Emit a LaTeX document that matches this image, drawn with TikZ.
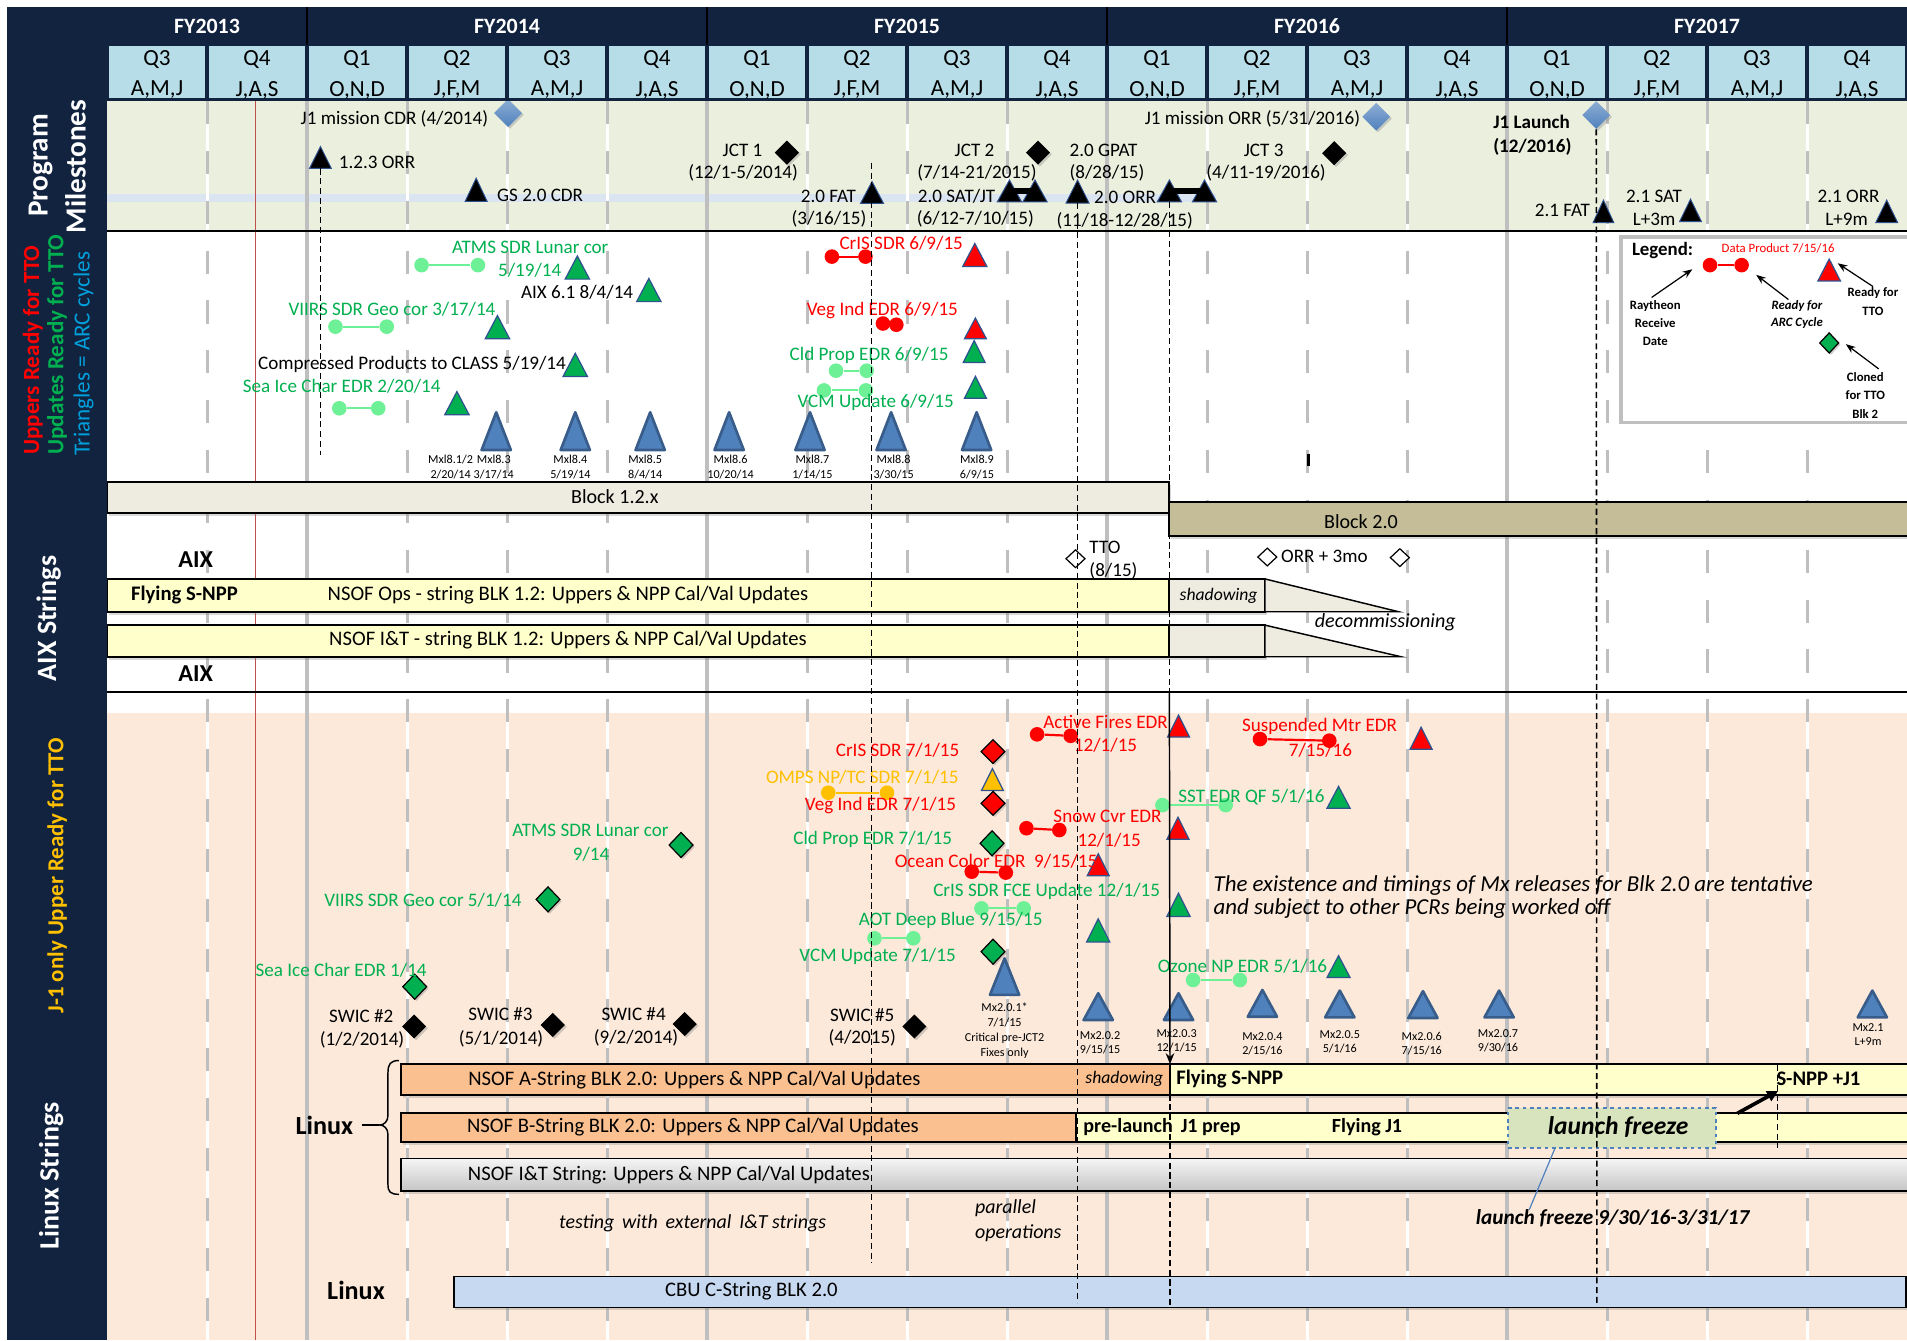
\documentclass[tikz,border=0pt]{standalone}
\usepackage{fontspec}
\setmainfont{Carlito}
\usetikzlibrary{shapes.geometric,arrows.meta,shadows}
\definecolor{navy}{RGB}{18,35,63}
\definecolor{qblue}{RGB}{183,222,232}
\definecolor{msbg}{RGB}{235,239,222}
\definecolor{peach}{RGB}{252,233,218}
\definecolor{stripe}{RGB}{219,229,241}
\definecolor{gridg}{RGB}{191,191,191}
\definecolor{grn}{RGB}{0,176,80}
\definecolor{lgrn}{RGB}{110,240,150}
\definecolor{org}{RGB}{255,192,0}
\definecolor{mxblue}{RGB}{79,129,189}
\definecolor{mxedge}{RGB}{56,93,138}
\definecolor{triedge}{RGB}{47,82,143}
\definecolor{cyanb}{RGB}{0,160,220}
\definecolor{blkA}{RGB}{238,236,225}
\definecolor{blkB}{RGB}{196,189,151}
\definecolor{ylw}{RGB}{255,255,204}
\definecolor{orbar}{RGB}{250,192,144}
\definecolor{cbuc}{RGB}{198,217,241}
\definecolor{frzc}{RGB}{215,228,189}
\definecolor{redl}{RGB}{192,80,77}
\definecolor{legg}{RGB}{191,191,191}
\newcommand\tri[6]{%
  \node[inner sep=0pt,outer sep=0pt,minimum width=#4,minimum height=#5] (#1) at (#2,#3) {};
  \draw[#6] (#1.south west) -- (#1.south east) -- (#1.north) -- cycle;}
\newcommand\barbox[6]{%
  \node[#6,inner sep=0pt,outer sep=0pt,anchor=north west,minimum width={#4-#2},minimum height={#5-#3}] (#1) at (#2,#3) {};}
\begin{document}
\begin{tikzpicture}[x=1pt,y=-1pt,
  lbl/.style={inner sep=0pt,font=\fontsize{15.7}{18}\selectfont},
  lblg/.style={lbl,text=grn},
  lblr/.style={lbl,text=red},
  lblo/.style={lbl,text=org},
  lblk/.style={inner sep=0pt,font=\fontsize{15.7}{18}\selectfont\bfseries},
  mxl/.style={inner sep=0pt,font=\fontsize{10}{12}\selectfont,align=center},
  barl/.style={inner sep=0pt,font=\fontsize{17}{19}\selectfont},
  barlb/.style={inner sep=0pt,font=\fontsize{17}{19}\selectfont\bfseries},
  itl/.style={inner sep=0pt,font=\fontsize{16.4}{19}\selectfont\itshape},
  bitl/.style={inner sep=0pt,font=\fontsize{17.5}{20}\selectfont\bfseries\itshape},
  aixl/.style={inner sep=0pt,font=\fontsize{20}{23}\selectfont\bfseries},
  lnx/.style={inner sep=0pt,font=\fontsize{21.5}{24}\selectfont\bfseries},
  blk/.style={inner sep=0pt,font=\fontsize{16.5}{19}\selectfont},
  qlbl/.style={inner sep=0pt,font=\fontsize{19}{22}\selectfont},
  fyl/.style={inner sep=0pt,text=white,font=\fontsize{18}{21}\selectfont\bfseries},
  side/.style={inner sep=0pt,rotate=90,font=\fontsize{23}{26}\selectfont\bfseries},
  legs/.style={inner sep=0pt,font=\fontsize{10.5}{15}\selectfont\bfseries,align=center},
  dotbase/.style={circle,inner sep=0pt,minimum size=12pt},
  dotg/.style={dotbase,fill=lgrn},
  dotr/.style={dotbase,fill=red},
  doto/.style={dotbase,fill=org},
  lng/.style={lgrn,line width=1.8pt},
  lnr/.style={red,line width=1.8pt},
  lno/.style={org,line width=1.8pt},
  dmbase/.style={diamond,inner sep=0pt,minimum width=20pt,minimum height=20pt},
  shd/.style={drop shadow={opacity=0.35,shadow xshift=1.5pt,shadow yshift=-1.5pt}},
  dmk/.style={dmbase,fill=black,shd},
  dmg/.style={dmbase,fill=grn,draw=black,line width=1pt,minimum height=21pt,shd},
  dmr/.style={dmbase,fill=red,draw=black,line width=1pt,shd},
  dmb/.style={dmbase,minimum width=23pt,minimum height=23pt,top color=mxblue!65!white,bottom color=mxblue,shd},
  dmw/.style={dmbase,minimum width=16pt,minimum height=15pt,draw=black,line width=1pt},
  trk/.style={fill=black,draw=triedge,line width=0.8pt},
  trg/.style={fill=grn,draw=triedge,line width=1pt},
  trr/.style={fill=red,draw=triedge,line width=1pt},
  tro/.style={fill=org,draw=triedge,line width=1pt},
  trm/.style={fill=mxblue,draw=mxedge,line width=2.2pt,line join=round},
  vguide/.style={black,line width=1.3pt,dash pattern=on 5pt off 3pt},
  barst/.style={draw=black,line width=1.5pt,drop shadow={opacity=0.3,shadow xshift=1.5pt,shadow yshift=-2.5pt}},
  larr/.style={-{Stealth[length=8pt,width=6pt]},line width=1pt}
]
\useasboundingbox (0,0) rectangle (1568,1102);
\fill[white] (0,0) rectangle (1568,1102);
% ---------- backgrounds
\fill[msbg] (88,83) rectangle (1568,190);
\fill[peach] (88,586) rectangle (1568,1102);
\fill[stripe] (88,159.8) rectangle (1000,165.8);
% ---------- grid
\foreach \i in {1,...,17}{%
  \pgfmathsetmacro\gx{88+82.222*\i}%
  \pgfmathtruncatemacro\gf{mod(\i+2,4)}%
  \ifnum\gf=0
    \draw[gridg,line width=3pt] (\gx,83) -- (\gx,1102);
  \else
    \draw[white,line width=2.5pt] (\gx,83) -- (\gx,1102);
    \draw[gridg,line width=2.5pt,dash pattern=on 19pt off 22pt] (\gx,83) -- (\gx,1102);
  \fi
}
\draw[redl,line width=1pt] (210,83) -- (210,1102);
\draw[black,line width=1.5pt] (88,190) -- (1568,190);
\draw[black,line width=2pt] (6,569) -- (1568,569);
% ---------- bars
\barbox{bk12}{88}{396}{961.5}{421.5}{barst,fill=blkA}
\barbox{bk20}{961.5}{413}{1570}{441}{barst,fill=blkB}
\barbox{aixops}{88}{476}{961.5}{503}{barst,fill=ylw}
\barbox{aixopsb}{961.5}{476}{1040}{503}{barst,fill=blkA}
\draw[fill=blkA,line width=1.2pt] (aixopsb.north east) -- (1150,503) -- (aixopsb.south east) -- cycle;
\barbox{aixit}{88}{514}{961.5}{540}{barst,fill=ylw}
\barbox{aixitb}{961.5}{514}{1040}{540}{barst,fill=blkA}
\draw[fill=blkA,line width=1.2pt] (aixitb.north east) -- (1152,540) -- (aixitb.south east) -- cycle;
\barbox{lxa}{330}{875}{962}{900}{barst,fill=orbar}
\barbox{lxab}{962}{875}{1570}{900}{barst,fill=ylw}
\barbox{lxb}{330}{915}{885}{939}{barst,fill=orbar}
\barbox{lxbb}{885}{915}{1570}{939}{barst,fill=ylw}
\barbox{lxit}{330}{952.5}{1570}{979}{barst,top color=gray!8,bottom color=gray!45}
\barbox{cbubar}{373}{1049.5}{1567}{1075}{barst,fill=cbuc}
\barbox{frzbox}{1240}{911}{1411}{944}{draw=mxblue,dashed,fill=frzc,line width=1.2pt}
\barbox{legbox}{1333}{195}{1575}{347.5}{draw=legg,line width=3pt,fill=white}
% ---------- milestone shapes
\node[dmb] (dcdr) at (417.7,93) {};
\node[dmb] (dorr) at (1131.5,96) {};
\node[dmb] (dlaunch) at (1312.5,94.6) {};
\node[dmk] (djct1) at (647,125.5) {};
\node[dmk] (djct2) at (853.5,125.5) {};
\node[dmk] (djct3) at (1097,126) {};
\tri{t123}{263.5}{129.5}{18}{18}{trk}
\tri{tgs}{391.5}{156}{18}{19}{trk}
\tri{tfat}{717}{158.3}{19}{18}{trk}
\tri{tsat1}{830}{157}{20}{18}{trk}
\tri{tsat2}{851}{157}{20}{18}{trk}
\draw[line width=4.5pt] (tsat1.center) -- (tsat2.center);
\tri{tgpat}{886}{157.5}{19}{19}{trk}
\tri{torr1}{961.5}{157}{20}{18}{trk}
\tri{torr2}{990.4}{157}{20}{18}{trk}
\draw[line width=4.5pt] (torr1.center) -- (torr2.center);
\tri{tf21}{1318.4}{173.8}{17}{18.5}{trk}
\tri{ts21}{1390}{173}{18}{18.5}{trk}
\tri{to21}{1551.3}{173.8}{18}{18.5}{trk}
% ---------- uppers shapes
\node[dotg] (ua1) at (346.6,218) {}; \node[dotg] (ua2) at (393,218) {}; \draw[lng] (ua1) -- (ua2);
\tri{uta}{474.7}{220}{20}{19}{trg}
\tri{utb}{533.5}{238.5}{20}{19}{trg}
\node[dotg] (ub1) at (275.8,268.6) {}; \node[dotg] (ub2) at (318,268.6) {}; \draw[lng] (ub1) -- (ub2);
\tri{utc}{409}{269}{20}{19}{trg}
\tri{utd}{473}{300}{20}{19}{trg}
\node[dotg] (uc1) at (279,335.7) {}; \node[dotg] (uc2) at (311,335.7) {}; \draw[lng] (uc1) -- (uc2);
\tri{ute}{375.7}{331.5}{20}{19}{trg}
\node[dotr] (ud1) at (684,211) {}; \node[dotr] (ud2) at (711.6,211) {}; \draw[lnr] (ud1) -- (ud2);
\tri{utf}{801.5}{209.7}{20}{19}{trr}
\node[dotr] (ue1) at (726,266) {}; \node[dotr] (ue2) at (737,267) {};
\tri{utg}{802}{270}{18}{17}{trr}
\node[dotg] (uf1) at (687.4,304.8) {}; \node[dotg] (uf2) at (712.6,304.8) {}; \draw[lng] (uf1) -- (uf2);
\tri{uth}{801}{289}{18}{18}{trg}
\node[dotg] (ug1) at (677.5,321) {}; \node[dotg] (ug2) at (712,321) {}; \draw[lng] (ug1) -- (ug2);
\tri{uti}{802}{318.5}{18}{18}{trg}
\tri{mx83}{408}{354.5}{24}{31}{trm}
\tri{mx84}{473}{354.5}{24}{31}{trm}
\tri{mx85}{534.6}{354.5}{24}{31}{trm}
\tri{mx86}{599.5}{354.5}{24}{31}{trm}
\tri{mx87}{666}{354.5}{24}{31}{trm}
\tri{mx88}{732.7}{354.5}{24}{31}{trm}
\tri{mx89}{803}{354.5}{24}{31}{trm}
\draw[line width=2pt] (1076,373) -- (1076,383);
% ---------- AIX shapes
\node[dmw] (wtto) at (884.3,459.4) {};
\node[dmw,fill=white] (worr1) at (1042,458) {};
\node[dmw,fill=white] (worr2) at (1151,458.5) {};
% ---------- legend shapes
\node[dotr] (lg1) at (1406,218) {}; \node[dotr] (lg2) at (1432,218) {}; \draw[lnr] (lg1) -- (lg2);
\tri{lgt}{1504}{222}{18.5}{18}{trr}
\node[dmg,minimum width=16pt,minimum height=17pt] (lgd) at (1504,282) {};
% ---------- J-1 shapes
\node[dotr] (ja1) at (852.7,603.8) {}; \node[dotr] (ja2) at (880.3,605) {}; \draw[lnr] (ja1) -- (ja2);
\tri{jta}{969}{597}{18}{18}{trr}
\node[dotr] (jb1) at (1036,607.7) {}; \node[dotr] (jb2) at (1093,609) {}; \draw[lnr] (jb1) -- (jb2);
\tri{jtb}{1168.5}{607}{18}{18}{trr}
\node[dmr] (jdc) at (816.5,618) {};
\node[doto] (jc1) at (681,651.8) {}; \node[doto] (jc2) at (729.3,651.8) {}; \draw[lno] (jc1) -- (jc2);
\tri{jtc}{816}{641}{18}{18}{tro}
\node[dmr] (jdv) at (816.5,660.5) {};
\node[dotg] (jd1) at (955.8,662) {}; \node[dotg] (jd2) at (1007.8,662) {}; \draw[lng] (jd1) -- (jd2);
\tri{jtd}{1100.6}{655.6}{19}{18}{trg}
\node[dotr] (je1) at (844,681) {}; \node[dotr] (je2) at (871,682.5) {}; \draw[lnr] (je1) -- (je2);
\tri{jte}{968.6}{681}{18}{18}{trr}
\node[dmg] (jda) at (560,694.8) {};
\node[dmg] (jdp) at (815.7,693.4) {};
\node[dotr] (jf1) at (799,716.7) {}; \node[dotr] (jf2) at (827,717.5) {}; \draw[lnr] (jf1) -- (jf2);
\tri{jtf}{903}{711}{18}{18}{trr}
\node[dotg] (jg1) at (807,746.9) {}; \node[dotg] (jg2) at (841.7,746.9) {}; \draw[lng] (jg1) -- (jg2);
\tri{jtg}{969}{744}{19}{19}{trg}
\node[dmg] (jdg) at (450.6,739.5) {};
\node[dotg] (jh1) at (719,771.5) {}; \node[dotg] (jh2) at (751,771.5) {}; \draw[lng] (jh1) -- (jh2);
\tri{jth}{903}{765}{19}{19}{trg}
\node[dmg] (jdm) at (816.5,782.5) {};
\node[dotg] (ji1) at (981,805.8) {}; \node[dotg] (ji2) at (1019.5,805.8) {}; \draw[lng] (ji1) -- (ji2);
\tri{jti}{1100.6}{794.8}{19}{18}{trg}
\node[dmg] (jds) at (341,811.3) {};
\node[dmk] (sw2) at (340.5,844) {};
\node[dmk] (sw3) at (454.5,842.8) {};
\node[dmk] (sw4) at (563,842) {};
\node[dmk] (sw5) at (751.8,844) {};
\tri{m201}{826}{803}{24}{30}{trm}
\tri{m202}{903}{827.7}{24}{22}{trm}
\tri{m203}{969}{827.7}{24}{22}{trm}
\tri{m204}{1038}{825}{24}{22}{trm}
\tri{m205}{1101.6}{825.5}{24}{22}{trm}
\tri{m206}{1170}{826}{24}{22}{trm}
\tri{m207}{1232.6}{825.5}{24}{22}{trm}
\tri{m21}{1539.5}{825.5}{24}{22}{trm}
% ---------- milestone texts
\node[lbl] (m1) at (324.3,98) {J1 mission CDR (4/2014)};
\node[lbl,anchor=west] (m2) at (278.4,133.5) {1.2.3 ORR};
\node[lbl,anchor=west] (m3) at (408.6,160.3) {GS 2.0 CDR};
\node[lbl] (m4) at (610.5,123.9) {JCT 1};
\node[lbl] (m5) at (611,142) {(12/1-5/2014)};
\node[lbl,anchor=east] (m6) at (704,161.7) {2.0 FAT};
\node[lbl] (m7) at (681.6,180.3) {(3/16/15)};
\node[lbl] (m8) at (801.3,123.9) {JCT 2};
\node[lbl] (m9) at (803.3,142) {(7/14-21/2015)};
\node[lbl,anchor=west] (m10) at (754.5,161.7) {2.0 SAT/JT};
\node[lbl] (m11) at (802,180.3) {(6/12-7/10/15)};
\node[lbl,anchor=west] (m12) at (879.3,123.9) {2.0 GPAT};
\node[lbl,anchor=west] (m13) at (879.3,142) {(8/28/15)};
\node[lbl,anchor=west] (m14) at (899.5,162.3) {2.0 ORR};
\node[lbl] (m15) at (924.8,181.5) {(11/18-12/28/15)};
\node[lbl] (m16) at (1029.8,98) {J1 mission ORR (5/31/2016)};
\node[lbl] (m17) at (1039,124) {JCT 3};
\node[lbl] (m18) at (1041,142) {(4/11-19/2016)};
\node[lblk,anchor=west] (m19) at (1227.6,100) {J1 Launch};
\node[lblk,anchor=west] (m20) at (1227.6,120.6) {(12/2016)};
\node[lbl,anchor=east] (m21) at (1307.5,173.2) {2.1 FAT};
\node[lbl] (m22) at (1360,161.7) {2.1 SAT};
\node[lbl] (m23) at (1360,180) {L+3m};
\node[lbl] (m24) at (1520,161.7) {2.1 ORR};
\node[lbl] (m25) at (1518.4,180) {L+9m};
% ---------- uppers texts
\node[lblg] (u1) at (436,203) {ATMS SDR Lunar cor};
\node[lblg] (u2) at (435.5,222.5) {5/19/14};
\node[lbl] (u3) at (474.5,240.7) {AIX 6.1 8/4/14};
\node[lblg] (u4) at (322.3,254) {VIIRS SDR Geo cor 3/17/14};
\node[lbl] (u5) at (338.8,299.6) {Compressed Products to CLASS 5/19/14};
\node[lblg] (u6) at (281,318) {Sea Ice Char EDR 2/20/14};
\node[lblr] (u7) at (741,200) {CrIS SDR 6/9/15};
\node[lblr] (u8) at (725.5,255) {Veg Ind EDR 6/9/15};
\node[lblg] (u9) at (714.6,292) {Cld Prop EDR 6/9/15};
\node[lblg] (u10) at (720,331) {VCM Update 6/9/15};
\node[mxl] (x1) at (370.5,384) {Mxl8.1/2\\2/20/14};
\node[mxl] (x2) at (406,384) {Mxl8.3\\3/17/14};
\node[mxl] (x3) at (469,384) {Mxl8.4\\5/19/14};
\node[mxl] (x4) at (530.5,384) {Mxl8.5\\8/4/14};
\node[mxl] (x5) at (600.7,384) {Mxl8.6\\10/20/14};
\node[mxl] (x6) at (668,384) {Mxl8.7\\1/14/15};
\node[mxl] (x7) at (734.8,384) {Mxl8.8\\3/30/15};
\node[mxl] (x8) at (803.3,384) {Mxl8.9\\6/9/15};
% ---------- legend texts
\node[inner sep=0pt,font=\fontsize{15.5}{18}\selectfont\bfseries] (lgh) at (1367,205.6) {Legend:};
\node[inner sep=0pt,text=red,font=\fontsize{10.5}{12}\selectfont] (lgdp) at (1462,204) {Data Product 7/15/16};
\node[legs] (lray) at (1361,265.5) {Raytheon\\Receive\\Date};
\node[legs,font=\fontsize{10.5}{14}\selectfont\bfseries\itshape] (larc) at (1477.5,259) {Ready for\\ARC Cycle};
\node[legs] (ltto) at (1540,248) {Ready for\\TTO};
\node[legs] (lcl) at (1533.7,325.2) {Cloned\\for TTO\\Blk 2};
\coordinate (la1) at (1391.5,221.4);
\coordinate (la2) at (1444,226);
\coordinate (la3) at (1511,216.5);
\coordinate (la4) at (1517.7,283);
\draw[larr] ([xshift=-3pt,yshift=2pt]lray.north) -- (la1);
\draw[larr] ([xshift=-7pt,yshift=1pt]larc.north) -- (la2);
\draw[larr] ([yshift=1pt]ltto.north) -- (la3);
\draw[larr] ([xshift=11pt,yshift=3pt]lcl.north) -- (la4);
% ---------- AIX texts
\node[blk] (a11) at (505.5,408) {Block 1.2.x};
\node[blk] (a12) at (1119,429) {Block 2.0};
\node[aixl] (a1) at (161,460.5) {AIX};
\node[aixl] (a2) at (161,553.5) {AIX};
\node[barlb] (a3) at (151.6,489) {Flying S-NPP};
\node[barl] (a4) at (467,489) {NSOF Ops - string BLK 1.2: Uppers \& NPP Cal/Val Updates};
\node[barl] (a5) at (467,526) {NSOF I\&T - string BLK 1.2: Uppers \& NPP Cal/Val Updates};
\node[itl,font=\fontsize{14.5}{17}\selectfont\itshape] (a6) at (1002,490) {shadowing};
\node[itl,font=\fontsize{16.5}{19}\selectfont\itshape] (a7) at (1139,511.7) {decommissioning};
\node[lbl,anchor=west] (a8) at (895.6,450) {TTO};
\node[lbl,anchor=west] (a9) at (895.6,469) {(8/15)};
\node[lbl] (a10) at (1089,457.7) {ORR + 3mo};
% ---------- J-1 texts
\node[lblr] (j1) at (909,594) {Active Fires EDR};
\node[lblr] (j2) at (909,612.6) {12/1/15};
\node[lblr] (j3) at (1085,597) {Suspended Mtr EDR};
\node[lblr] (j4) at (1085.7,616.7) {7/15/16};
\node[lblr] (j5) at (738,617) {CrIS SDR 7/1/15};
\node[lblo] (j6) at (709,639) {OMPS NP/TC SDR 7/1/15};
\node[lblr] (j7) at (724,662) {Veg Ind EDR 7/1/15};
\node[lblg] (j8) at (1029,655.6) {SST EDR QF 5/1/16};
\node[lblr] (j9) at (910.6,671) {Snow Cvr EDR};
\node[lblr] (j10) at (912,690.7) {12/1/15};
\node[lblg] (j11) at (485.5,682.5) {ATMS SDR Lunar cor};
\node[lblg] (j12) at (486,702) {9/14};
\node[lblg] (j13) at (717.6,690) {Cld Prop EDR 7/1/15};
\node[lblr] (j14) at (819,708.5) {Ocean Color EDR \ 9/15/15};
\node[lblg] (j15) at (860.6,733) {CrIS SDR FCE Update 12/1/15};
\node[lblg] (j16) at (347.7,740.6) {VIIRS SDR Geo cor 5/1/14};
\node[lblg] (j17) at (781.7,757) {AOT Deep Blue 9/15/15};
\node[lblg] (j18) at (721.6,786.6) {VCM Update 7/1/15};
\node[lblg] (j19) at (1021.6,794.8) {Ozone NP EDR 5/1/16};
\node[lblg] (j20) at (280.5,797.6) {Sea Ice Char EDR 1/14};
\node[inner sep=0pt,anchor=west,font=\fontsize{18.8}{21}\selectfont\itshape] (j21) at (997.7,728.5) {The existence and timings of Mx releases for Blk 2.0 are tentative};
\node[inner sep=0pt,anchor=west,font=\fontsize{18.8}{21}\selectfont\itshape] (j22) at (997.7,746.9) {and subject to other PCRs being worked off};
\node[lbl] (s1) at (297,835.4) {SWIC \#2};
\node[lbl] (s2) at (297.7,854.6) {(1/2/2014)};
\node[lbl] (s3) at (411.5,833.7) {SWIC \#3};
\node[lbl] (s4) at (412,854) {(5/1/2014)};
\node[lbl] (s5) at (521,834) {SWIC \#4};
\node[lbl] (s6) at (523,853) {(9/2/2014)};
\node[lbl] (s7) at (709,834.6) {SWIC \#5};
\node[lbl] (s8) at (709,853.7) {(4/2015)};
\node[mxl,font=\fontsize{10}{12.2}\selectfont] (y1) at (826,847.5) {Mx2.0.1*\\7/1/15\\Critical pre-JCT2\\Fixes only};
\node[mxl,font=\fontsize{10}{11.5}\selectfont] (y2) at (904.5,857.5) {Mx2.0.2\\9/15/15};
\node[mxl,font=\fontsize{10}{11.5}\selectfont] (y3) at (967.5,855.5) {Mx2.0.3\\12/1/15};
\node[mxl,font=\fontsize{10}{11.5}\selectfont] (y4) at (1038,858) {Mx2.0.4\\2/15/16};
\node[mxl,font=\fontsize{10}{11.5}\selectfont] (y5) at (1101.6,857) {Mx2.0.5\\5/1/16};
\node[mxl,font=\fontsize{10}{11.5}\selectfont] (y6) at (1169,858) {Mx2.0.6\\7/15/16};
\node[mxl,font=\fontsize{10}{11.5}\selectfont] (y7) at (1231.7,855.5) {Mx2.0.7\\9/30/16};
\node[mxl,font=\fontsize{10}{11.5}\selectfont] (y8) at (1536,851) {Mx2.1\\L+9m};
% ---------- Linux texts
\node[barl] (l1) at (571,888) {NSOF A-String BLK 2.0: Uppers \& NPP Cal/Val Updates};
\node[itl,font=\fontsize{14.5}{17}\selectfont\itshape] (l2) at (924.5,887) {shadowing};
\node[barlb,anchor=west] (l3) at (967,887) {Flying S-NPP};
\node[barlb,anchor=west] (l4) at (1460.5,886.6) {S-NPP +J1};
\node[barl] (l5) at (569.7,927) {NSOF B-String BLK 2.0: Uppers \& NPP Cal/Val Updates};
\node[barlb,anchor=west,font=\fontsize{16.5}{19}\selectfont\bfseries] (l6) at (890.6,927) {pre-launch\, J1 prep};
\node[barlb,font=\fontsize{16.5}{19}\selectfont\bfseries] (l7) at (1124,926.4) {Flying J1};
\node[inner sep=0pt,font=\fontsize{21}{23}\selectfont\bfseries\itshape] (l8) at (1330.5,927) {launch freeze};
\node[barl] (l9) at (550,966) {NSOF I\&T String: Uppers \& NPP Cal/Val Updates};
\node[itl] (l10) at (569.5,1006) {testing\, with\, external\, I\&T strings};
\node[itl,anchor=west] (l11) at (801.5,993.5) {parallel};
\node[itl,anchor=west] (l12) at (801.5,1014) {operations};
\node[bitl] (l13) at (1326,1002) {launch freeze 9/30/16-3/31/17};
\node[lnx] (l14) at (266.7,925) {Linux};
\node[lnx] (l15) at (292.7,1061) {Linux};
\node[barl] (l16) at (617.8,1062) {CBU C-String BLK 2.0};
\coordinate (btip) at (312,925);
\draw[line width=1.2pt] (328,872) .. controls (321,872) and (319,875) .. (319,882) -- (319,917) .. controls (319,922) and (316,925) .. (btip) .. controls (316,925) and (319,928) .. (319,933) -- (319,974) .. controls (319,980) and (321,982) .. (328,982);
\draw[line width=1.2pt] ([xshift=7pt]l14.east) -- (btip);
\draw[mxblue,line width=1pt] ([xshift=38.6pt]frzbox.south west) -- ([xshift=44pt]l13.north west);
% ---------- guides
\coordinate (g1b) at (263.5,374);
\draw[vguide] (t123.south) -- (g1b);
\coordinate (g2a) at (716.5,134); \coordinate (g2b) at (716.5,1038.6);
\draw[vguide] (g2a) -- (g2b);
\coordinate (g3b) at (886,1071);
\draw[vguide] (tgpat.south) -- (g3b);
\coordinate (g4b) at (961.5,569);
\draw[vguide] (torr1.south) -- (g4b);
\draw[-{Stealth[length=9pt,width=7pt]},line width=1.2pt] (g4b) -- (lxab.north west);
\coordinate (g4c) at (962,1074);
\draw[vguide] (lxab.south west) -- (g4c);
\coordinate (g5b) at (1313,1074);
\draw[vguide] (dlaunch.south) -- (g5b);
\coordinate (g6a) at (1461.5,876); \coordinate (g6b) at (1461.5,944);
\draw[vguide] (g6a) -- (g6b);
\coordinate (fa) at (1428.5,915.4); \coordinate (fb) at (1462,897);
\draw[-{Triangle[length=9pt,width=9pt]},line width=3pt] (fa) -- (fb);
% ---------- header
\fill[navy] (6,6) rectangle (1568,83);
\fill[navy] (6,6) rectangle (88,1102);
\foreach \i in {0,...,17}{%
  \pgfmathsetmacro\xa{88+82.222*\i+1.4}%
  \pgfmathsetmacro\xb{88+82.222*(\i+1)-1.4}%
  \fill[qblue] (\xa,37.5) rectangle (\xb,80.5);
  \pgfmathtruncatemacro\qm{mod(\i,4)}%
  \pgfmathsetmacro\qc{88+82.222*(\i+0.5)}%
  \node[qlbl] (qa\i) at (\qc,49) {\ifcase\qm Q3\or Q4\or Q1\or Q2\fi};
  \node[qlbl] (qb\i) at (\qc,74) {\ifcase\qm A,M,J\or J,A,S\or O,N,D\or J,F,M\fi};
}
\foreach \gx in {252.44,581.33,910.22,1239.1}{\draw[black,line width=2pt] (\gx,6) -- (\gx,37);}
\node[fyl] (fy13) at (170.2,21.4) {FY2013};
\node[fyl] (fy14) at (416.9,21.4) {FY2014};
\node[fyl] (fy15) at (745.8,21.4) {FY2015};
\node[fyl] (fy16) at (1074.7,21.4) {FY2016};
\node[fyl] (fy17) at (1403.6,21.4) {FY2017};
% ---------- side labels
\node[side,text=white,font=\fontsize{24}{26}\selectfont\bfseries] (sp1) at (33.5,136) {Program};
\node[side,text=white,font=\fontsize{24}{26}\selectfont\bfseries] (sp2) at (62,137) {Milestones};
\node[side,anchor=west,text=red,font=\fontsize{19}{22}\selectfont\bfseries] (su1) at (27,374) {Uppers Ready for TTO};
\node[side,anchor=west,text=grn,font=\fontsize{19}{22}\selectfont\bfseries] (su2) at (47,374) {Updates Ready for TTO};
\node[side,anchor=west,text=cyanb,font=\fontsize{19}{22}\selectfont] (su3) at (68.8,375) {Triangles = ARC cycles};
\node[side,text=white] (sa) at (40,508.5) {AIX Strings};
\node[side,text=org,font=\fontsize{18.8}{21}\selectfont\bfseries] (sj) at (47,720) {J-1 only Upper Ready for TTO};
\node[side,text=white] (sl) at (42,967) {Linux Strings};
\end{tikzpicture}
\end{document}
